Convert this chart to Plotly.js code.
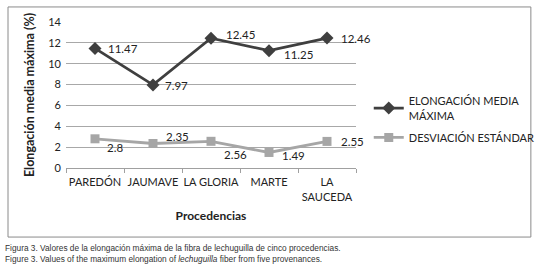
<!DOCTYPE html>
<html><head><meta charset="utf-8">
<script src="https://cdn.plot.ly/plotly-3.0.1.min.js"></script>
<style>body{margin:0;background:#fff}#c{width:537px;height:275px}</style>
</head><body><div id="c"></div>
<script>
const categories = ['PAREDÓN', 'JAUMAVE', 'LA GLORIA', 'MARTE', 'LA<br>SAUCEDA'];
const elongacion = [11.47, 7.97, 12.45, 11.25, 12.46];
const desviacion = [2.8, 2.35, 2.56, 1.49, 2.55];
const elongLabels = ['11.47', '7.97', '12.45', '11.25', '12.46'];
const desvLabels = ['2.8', '2.35', '2.56', '1.49', '2.55'];
const yTicks = [0, 2, 4, 6, 8, 10, 12, 14];

// label placement (style only): [xshift, yshift] in px
const elongShift = [[11, 0], [10, -1], [13, 4], [13, -4], [12, 0]];
const desvShift = [[10, -9], [11, 7], [11, -13], [11, -3], [12, 0]];

const font = 'Lato, "Open Sans", sans-serif';
const traces = [
  {
    x: categories, y: elongacion, name: 'ELONGACIÓN MEDIA<br>MÁXIMA',
    legendgroup: 'a',
    type: 'scatter', mode: 'lines+markers',
    line: {color: '#3f3f3f', width: 2.8},
    marker: {symbol: 'diamond', size: 10, color: '#3f3f3f'},
    cliponaxis: false
  },
  {
    x: categories, y: desviacion, name: 'DESVIACIÓN ESTÁNDAR',
    legendgroup: 'b',
    type: 'scatter', mode: 'lines+markers',
    line: {color: '#a6a6a6', width: 2.8},
    marker: {symbol: 'square', size: 9, color: '#a6a6a6'},
    cliponaxis: false
  }
];

function labels(vals, texts, shifts) {
  return vals.map((v, i) => ({
    x: categories[i], y: v, xref: 'x', yref: 'y', text: texts[i], showarrow: false,
    xanchor: 'left', yanchor: 'middle', xshift: shifts[i][0], yshift: shifts[i][1],
    font: {family: font, size: 11.5, color: '#222'}
  }));
}

const layout = {
  width: 537, height: 275,
  margin: {l: 66, r: 181, t: 22, b: 107, autoexpand: false},
  paper_bgcolor: '#fff', plot_bgcolor: '#fff',
  font: {family: font, size: 11, color: '#222'},
  showlegend: true,
  legend: {x: 1.044, y: 0.33, xanchor: 'left', yanchor: 'middle', traceorder: 'grouped',
    font: {family: font, size: 11, color: '#222'}, tracegroupgap: 4, bgcolor: 'rgba(0,0,0,0)'},
  xaxis: {
    type: 'category', tickvals: categories, ticktext: categories,
    range: [-0.5, categories.length - 0.5], autorange: false,
    showline: true, linecolor: '#a0a0a0', linewidth: 1, tickangle: 0, automargin: false,
    ticks: 'outside', tickson: 'boundaries', ticklen: 4, tickcolor: '#a0a0a0',
    showgrid: false, zeroline: false, ticklabelstandoff: 4,
    tickfont: {family: font, size: 11, color: '#222'},
    title: {text: '<b>Procedencias</b>', font: {family: font, size: 12, color: '#222'}, standoff: 10}
  },
  yaxis: {
    range: [0, 14], tickvals: yTicks, ticktext: yTicks.map(String),
    showgrid: true, gridcolor: '#a8a8a8', gridwidth: 1, automargin: false,
    zeroline: false, showline: false, ticklabelstandoff: 4,
    tickfont: {family: font, size: 11, color: '#222'},
    ticks: '',
    title: {text: '<b>Elongación media máxima (%)</b>', font: {family: font, size: 12.5, color: '#222'}, standoff: 10}
  },
  shapes: [{type: 'rect', xref: 'paper', yref: 'paper', x0: -0.2, x1: 1.603, y0: -0.473, y1: 1.103,
    line: {color: '#8a8a8a', width: 1}, fillcolor: 'rgba(0,0,0,0)'}],
  annotations: [
    ...labels(elongacion, elongLabels, elongShift),
    ...labels(desviacion, desvLabels, desvShift),
    {xref: 'paper', yref: 'paper', x: -0.218, y: -0.545, xanchor: 'left', yanchor: 'middle', showarrow: false,
     text: 'Figura 3. Valores de la elongación máxima de la fibra de lechuguilla de cinco procedencias.',
     font: {family: '"Liberation Sans", sans-serif', size: 8.3, color: '#333'}},
    {xref: 'paper', yref: 'paper', x: -0.218, y: -0.62, xanchor: 'left', yanchor: 'middle', showarrow: false,
     text: 'Figure 3. Values of the maximum elongation of <i>lechuguilla</i> fiber from five provenances.',
     font: {family: '"Liberation Sans", sans-serif', size: 8.3, color: '#333'}}
  ]
};
Plotly.newPlot('c', traces, layout, {displayModeBar: false, staticPlot: true});
</script></body></html>
